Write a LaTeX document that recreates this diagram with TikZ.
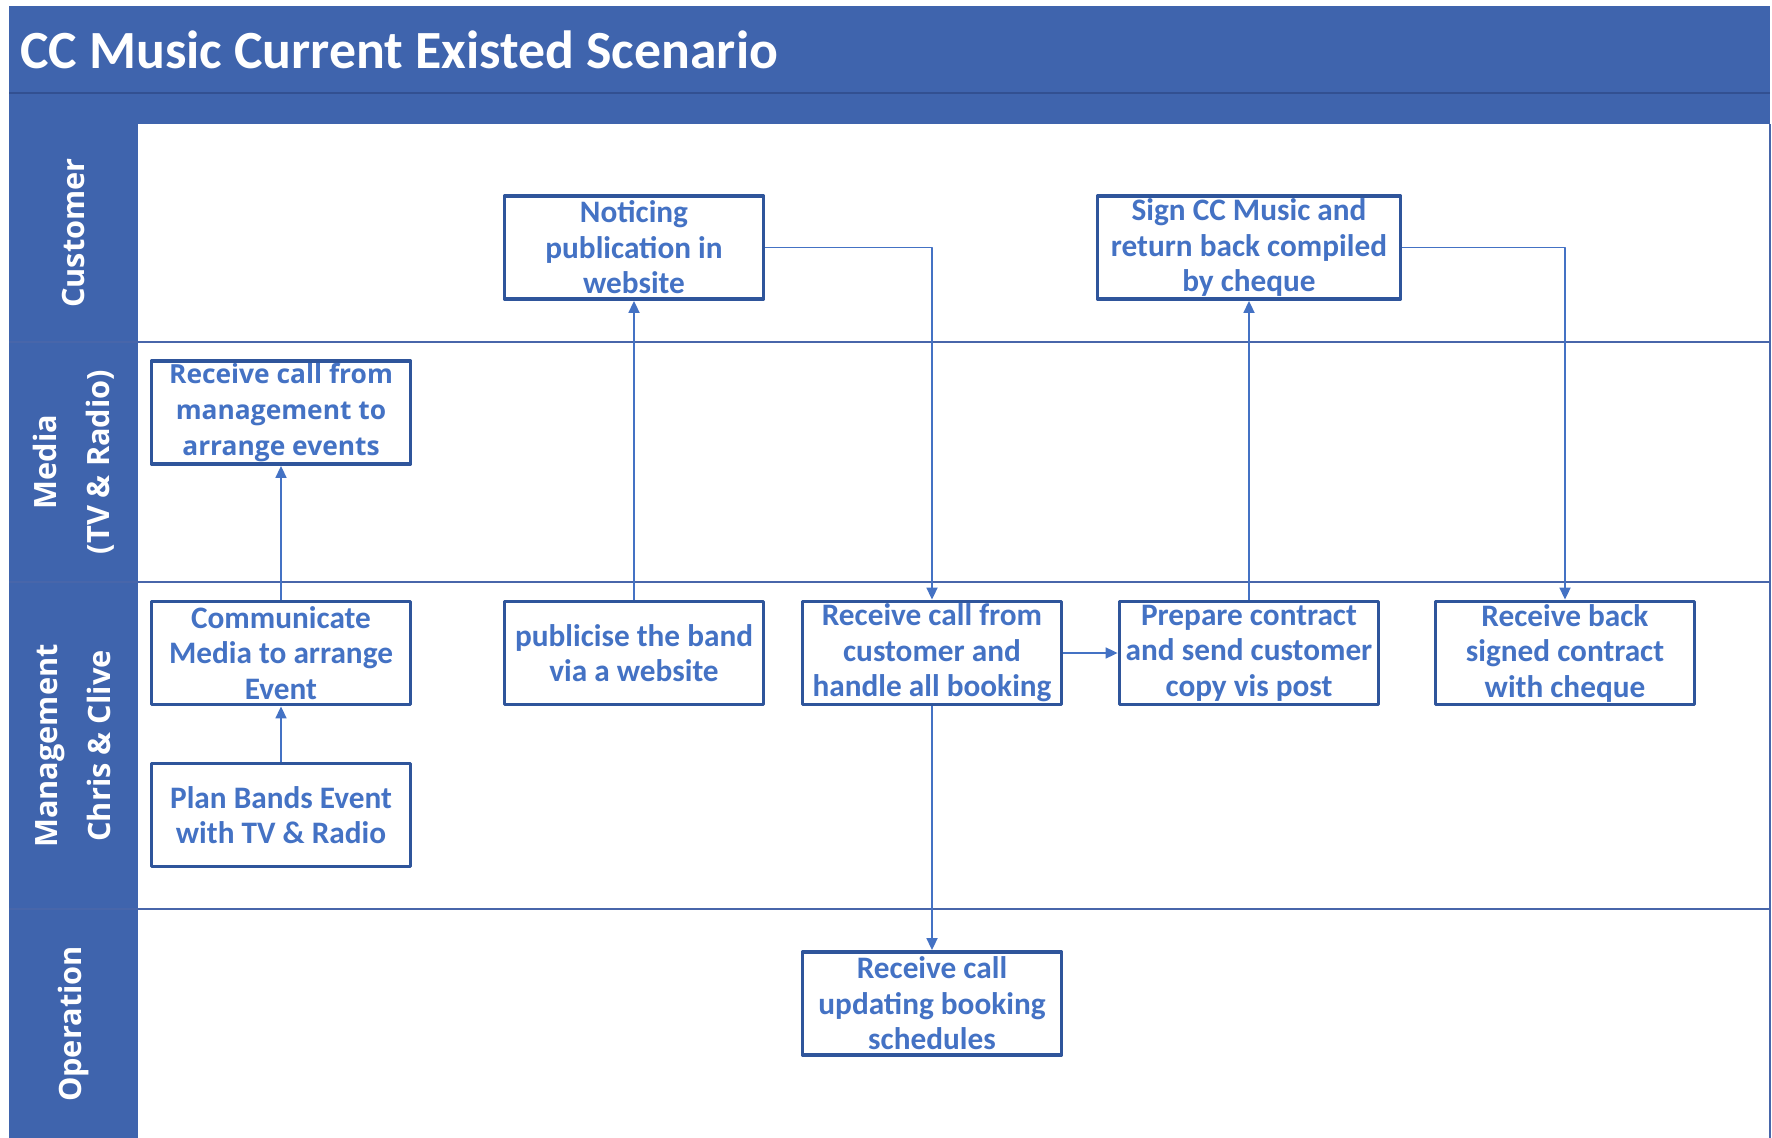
\documentclass[tikz,border=0pt]{standalone}
\usepackage{fontspec}
\setmainfont{Carlito}
\newfontfamily\lanefont{Open Sans}
\usetikzlibrary{arrows.meta}
\definecolor{headblue}{RGB}{63,100,173}
\definecolor{darkblue}{RGB}{50,80,145}
\definecolor{edgeblue}{RGB}{47,85,155}
\definecolor{textblue}{RGB}{68,114,196}
\definecolor{sepblue}{RGB}{72,102,170}
\begin{document}
\begin{tikzpicture}[x=0.02cm, y=-0.02cm, line join=round,
	task/.style={draw=edgeblue, line width=2.2pt, fill=white, text=textblue, align=center,
		font=\fontsize{17.8}{20.2}\selectfont\bfseries, minimum width=5.18cm, minimum height=2.06cm, inner sep=1pt},
	lane/.style={text=white, rotate=90, align=center, font=\lanefont\fontsize{17.5}{30}\selectfont\bfseries},
	flow/.style={draw=textblue, line width=1pt, -{Triangle[length=0.24cm, width=0.22cm]}}]
	\useasboundingbox (0,0) rectangle (1772,1138);
	% header and lane column
	\fill[headblue] (9,6) rectangle (1770,124);
	\fill[headblue] (9,124) rectangle (138,1138);
	\draw[darkblue, line width=1pt] (9,93)--(1770,93);
	\draw[sepblue, line width=1pt] (1770,124)--(1770,1138);
	\foreach \yy in {342,582,909}{
		\draw[sepblue, line width=1.2pt] (9,\yy)--(1770,\yy);}
	\node[anchor=west, text=white, font=\fontsize{30.6}{36}\selectfont\bfseries] (title) at (14,50) {CC Music Current Existed Scenario};
	\foreach \yy/\lbl/\nm in {233/Customer/lcust, 462/{Media\\(TV \& Radio)}/lmedia, 746/{Management\\Chris \& Clive}/lmgmt, 1024/Operation/lops}{
		\node[lane] (\nm) at (73.5,\yy) {\lbl};}
	% tasks
	\node[task] (notice) at (634,247.5) {Noticing\\publication in\\website};
	\node[task, minimum width=6.06cm] (sign) at (1249,247.5) {Sign CC Music and\\return back compiled\\by cheque};
	\node[task, font=\lanefont\fontsize{15}{20.5}\selectfont\bfseries] (medrcv) at (281,412.5) {Receive call from\\management to\\arrange events};
	\node[task] (comm) at (281,653) {Communicate\\Media to arrange\\Event};
	\node[task] (pub) at (634,653) {publicise the band\\via a website};
	\node[task] (custrcv) at (932,653) {Receive call from\\customer and\\handle all booking};
	\node[task] (prep) at (1249,653) {Prepare contract\\and send customer\\copy vis post};
	\node[task] (back) at (1565,653) {Receive back\\signed contract\\with cheque};
	\node[task] (plan) at (281,815) {Plan Bands Event\\with TV \& Radio};
	\node[task] (update) at (932,1003.5) {Receive call\\updating booking\\schedules};
	% connectors
	\draw[flow] (plan)--(comm);
	\draw[flow] (comm)--(medrcv);
	\draw[flow] (pub)--(notice);
	\draw[flow] (notice)-|(custrcv);
	\draw[flow] (custrcv)--(prep);
	\draw[flow] (prep)--(sign);
	\draw[flow] (sign)-|(back);
	\draw[flow] (custrcv)--(update);
\end{tikzpicture}
\end{document}
